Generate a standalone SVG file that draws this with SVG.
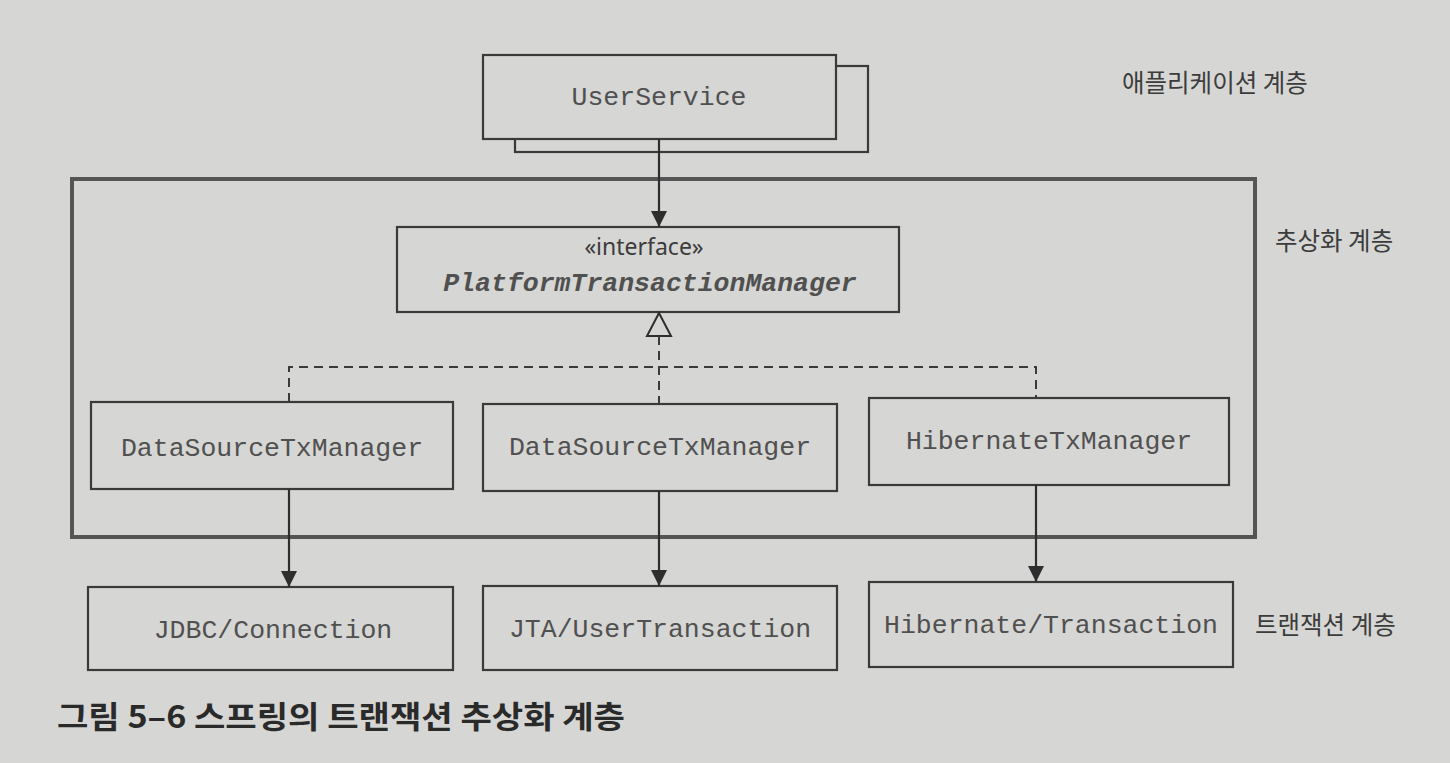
<svg xmlns="http://www.w3.org/2000/svg" width="1450" height="763" viewBox="0 0 1450 763">
<defs>
<style>
.box{fill:#d6d6d4;stroke:#3a3a3a;stroke-width:2.2}
.mono{font-family:"Liberation Mono","DejaVu Sans Mono",monospace;font-size:26.5px;fill:#505050;text-anchor:middle}
.kr{font-family:"Noto Sans CJK KR","Noto Sans",sans-serif;font-size:24.5px;fill:#3c3c3c}
.line{stroke:#2e2e2e;stroke-width:2.2;fill:none}
.dash{stroke:#3a3a3a;stroke-width:2;fill:none;stroke-dasharray:9 6}
</style>
<marker id="arr" markerWidth="18" markerHeight="18" refX="16" refY="8" orient="auto" markerUnits="userSpaceOnUse">
<path d="M0,0 L16,8 L0,16 Z" fill="#2e2e2e"/>
</marker>
</defs>
<rect x="0" y="0" width="1450" height="763" fill="#d6d6d4"/>

<g id="outer-layer">
<rect x="72" y="179" width="1183" height="358" fill="none" stroke="#555" stroke-width="4"/>
</g>

<g id="userservice">
<rect class="box" x="515" y="66" width="353" height="86"/>
<rect class="box" x="483" y="55" width="353" height="84"/>
<text class="mono" x="659" y="105">UserService</text>
</g>

<g id="ptm">
<rect class="box" x="397" y="227" width="502" height="85"/>
<text x="644" y="255" font-family="'Noto Sans','Open Sans',sans-serif" font-size="23" fill="#3c3c3c" text-anchor="middle">«interface»</text>
<text class="mono" x="650" y="291" font-weight="bold" font-style="italic" fill="#3a3a3a">PlatformTransactionManager</text>
</g>

<g id="ds1">
<rect class="box" x="91" y="402" width="362" height="87"/>
<text class="mono" x="272" y="456">DataSourceTxManager</text>
</g>
<g id="ds2">
<rect class="box" x="483" y="404" width="354" height="87"/>
<text class="mono" x="660" y="455">DataSourceTxManager</text>
</g>
<g id="hib">
<rect class="box" x="869" y="398" width="360" height="87"/>
<text class="mono" x="1049" y="449">HibernateTxManager</text>
</g>

<g id="jdbc">
<rect class="box" x="88" y="587" width="365" height="83"/>
<text class="mono" x="273" y="638">JDBC/Connection</text>
</g>
<g id="jta">
<rect class="box" x="483" y="586" width="354" height="84"/>
<text class="mono" x="660" y="637">JTA/UserTransaction</text>
</g>
<g id="hibtx">
<rect class="box" x="869" y="582" width="364" height="85"/>
<text class="mono" x="1051" y="633">Hibernate/Transaction</text>
</g>

<g id="connectors">
<line class="line" x1="659" y1="139" x2="659" y2="227" marker-end="url(#arr)"/>
<path d="M659,313 L671,336 L647,336 Z" fill="#d6d6d4" stroke="#2e2e2e" stroke-width="2"/>
<path class="dash" d="M659,336 V404"/>
<path class="dash" d="M289,402 V367 H1036 V398"/>
<line class="line" x1="289" y1="489" x2="289" y2="587" marker-end="url(#arr)"/>
<line class="line" x1="659" y1="491" x2="659" y2="586" marker-end="url(#arr)"/>
<line class="line" x1="1036" y1="485" x2="1036" y2="582" marker-end="url(#arr)"/>
</g>

<g id="labels">
<text class="kr" x="1122" y="92">애플리케이션 계층</text>
<text class="kr" x="1275" y="250">추상화 계층</text>
<text class="kr" x="1255" y="634">트랜잭션 계층</text>
<text x="57" y="728" font-family="'Noto Sans CJK KR','Noto Sans',sans-serif" font-size="31" font-weight="bold" fill="#2a2a2a" textLength="568" lengthAdjust="spacingAndGlyphs">그림 5–6 스프링의 트랜잭션 추상화 계층</text>
</g>
</svg>
